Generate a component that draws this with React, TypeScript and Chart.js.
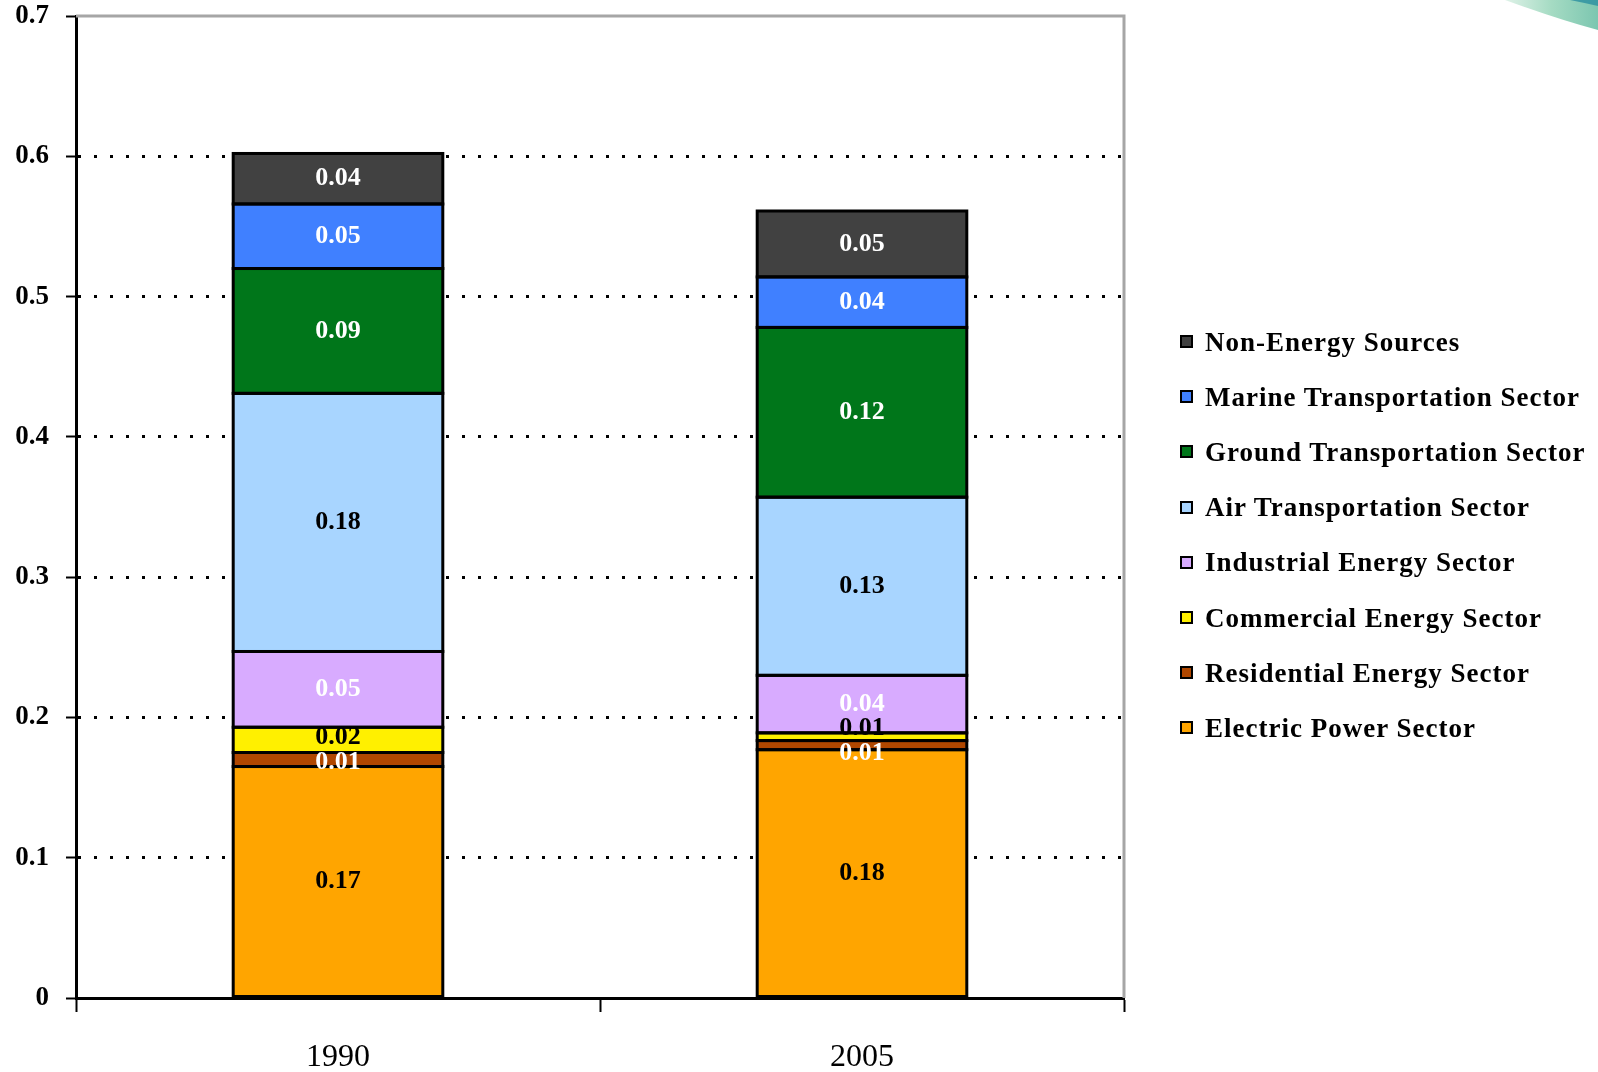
import React, { useEffect, useRef } from "react";
import { Chart, registerables } from "chart.js";

Chart.register(...registerables);

const categories = ["1990", "2005"];
const seriesNames = [
  "Electric Power Sector",
  "Residential Energy Sector",
  "Commercial Energy Sector",
  "Industrial Energy Sector",
  "Air Transportation Sector",
  "Ground Transportation Sector",
  "Marine Transportation Sector",
  "Non-Energy Sources",
];
const electricPower = [0.165, 0.177];
const residential = [0.01, 0.0065];
const commercial = [0.018, 0.0055];
const industrial = [0.054, 0.041];
const airTransport = [0.184, 0.127];
const groundTransport = [0.089, 0.121];
const marineTransport = [0.046, 0.036];
const nonEnergy = [0.036, 0.047];
const yTicks = [0, 0.1, 0.2, 0.3, 0.4, 0.5, 0.6, 0.7];

const seriesValues = [
  electricPower,
  residential,
  commercial,
  industrial,
  airTransport,
  groundTransport,
  marineTransport,
  nonEnergy,
];
const fillColors = [
  "#FFA500",
  "#B04700",
  "#FFF000",
  "#D8ABFF",
  "#A8D5FF",
  "#00761A",
  "#4080FF",
  "#414141",
];
const labelColors = [
  "#000000",
  "#FFFFFF",
  "#000000",
  "#FFFFFF",
  "#000000",
  "#FFFFFF",
  "#FFFFFF",
  "#FFFFFF",
];

const SERIF = '"Liberation Serif", "Times New Roman", serif';

const segmentOutlines = {
  id: "segmentOutlines",
  afterDatasetsDraw(chart: any) {
    const ctx = chart.ctx;
    ctx.save();
    ctx.strokeStyle = "#000000";
    ctx.lineWidth = 3;
    chart.data.datasets.forEach((_ds: any, di: number) => {
      chart.getDatasetMeta(di).data.forEach((el: any) => {
        const left = el.x - el.width / 2;
        const top = Math.min(el.y, el.base);
        const h = Math.abs(el.base - el.y);
        ctx.strokeRect(left, top, el.width, h);
      });
    });
    ctx.restore();
  },
};

const segmentLabels = {
  id: "segmentLabels",
  afterDatasetsDraw(chart: any) {
    const ctx = chart.ctx;
    const n = chart.data.labels.length;
    const MIN_GAP = 25;
    for (let i = 0; i < n; i++) {
      const items: any[] = [];
      chart.data.datasets.forEach((ds: any, di: number) => {
        const el = chart.getDatasetMeta(di).data[i];
        if (!el) return;
        const v = ds.data[i] as number;
        items.push({
          x: el.x,
          y: (el.y + el.base) / 2,
          text: v.toFixed(2),
          color: labelColors[di],
        });
      });
      items.sort((a, b) => a.y - b.y);
      for (let k = 1; k < items.length; k++) {
        const a = items[k - 1];
        const b = items[k];
        const gap = b.y - a.y;
        if (gap < MIN_GAP) {
          const d = (MIN_GAP - gap) / 2;
          a.y -= d;
          b.y += d;
        }
      }
      ctx.save();
      ctx.font = `bold 26px ${SERIF}`;
      ctx.textAlign = "center";
      ctx.textBaseline = "middle";
      items.forEach((it) => {
        ctx.fillStyle = it.color;
        ctx.fillText(it.text, it.x, it.y);
      });
      ctx.restore();
    }
  },
};

const frame = {
  id: "frame",
  beforeDatasetsDraw(chart: any) {
    const { ctx, chartArea } = chart;
    ctx.save();
    ctx.strokeStyle = "#A6A6A6";
    ctx.lineWidth = 3;
    ctx.beginPath();
    ctx.moveTo(chartArea.left, chartArea.top);
    ctx.lineTo(chartArea.right, chartArea.top);
    ctx.lineTo(chartArea.right, chartArea.bottom);
    ctx.stroke();
    ctx.restore();
  },
};

export default function App() {
  const canvasRef = useRef<HTMLCanvasElement | null>(null);

  useEffect(() => {
    document.body.style.margin = "0";
    const canvas = canvasRef.current;
    if (!canvas) return;
    const chart = new Chart(canvas, {
      type: "bar",
      data: {
        labels: categories,
        datasets: seriesValues.map((vals, i) => ({
          label: seriesNames[i],
          data: vals,
          backgroundColor: fillColors[i],
          borderColor: "#000000",
          borderWidth: 0,
          borderSkipped: false,
          categoryPercentage: 1,
          barPercentage: 0.4,
        })),
      },
      options: {
        animation: false,
        responsive: false,
        devicePixelRatio: 1,
        layout: { padding: { top: 16, right: 474, left: 0, bottom: 0 } },
        plugins: {
          legend: { display: false },
          tooltip: { enabled: false },
        },
        scales: {
          x: {
            stacked: true,
            afterFit: (scale: any) => {
              scale.height = 74;
              scale.paddingLeft = 0;
              scale.paddingRight = 0;
            },
            border: { display: true, color: "#000000", width: 3 },
            grid: {
              offset: true,
              drawOnChartArea: false,
              drawTicks: true,
              tickLength: 14,
              tickColor: "#000000",
              tickWidth: 2,
            },
            ticks: {
              color: "#000000",
              padding: 26,
              font: { family: SERIF, size: 32, weight: "normal" },
            },
          },
          y: {
            stacked: true,
            min: 0,
            max: 0.7,
            afterFit: (scale: any) => {
              scale.width = 76;
              scale.paddingTop = 0;
              scale.paddingBottom = 0;
            },
            afterBuildTicks: (scale: any) => {
              scale.ticks = yTicks.map((v) => ({ value: v }));
            },
            border: { display: true, color: "#000000", width: 3, dash: [3, 13] },
            grid: {
              drawOnChartArea: true,
              drawTicks: true,
              tickLength: 10,
              lineWidth: 3,
              tickBorderDash: [],
              tickColor: "#000000",
              tickWidth: 2,
              color: (c: any) =>
                c.tick && (c.tick.value === 0 || Math.abs(c.tick.value - 0.7) < 1e-9)
                  ? "rgba(0,0,0,0)"
                  : "#000000",
            },
            ticks: {
              color: "#000000",
              padding: 17,
              font: { family: SERIF, size: 27, weight: "bold" },
              callback: (v: any) => (Number(v) === 0 ? "0" : Number(v).toFixed(1)),
            },
          },
        },
      },
      plugins: [frame, segmentOutlines, segmentLabels],
    });
    return () => chart.destroy();
  }, []);

  const legendOrder = seriesNames.map((_, i) => i).reverse();

  return (
    <div style={{ position: "relative", width: 1598, height: 1072, background: "#fff", overflow: "hidden" }}>
      <canvas ref={canvasRef} width={1598} height={1072} style={{ width: 1598, height: 1072, display: "block" }} />
      <svg width={1598} height={1072} style={{ position: "absolute", left: 0, top: 0, pointerEvents: "none" }}>
        <defs>
          <linearGradient id="sw" x1="0" y1="0" x2="1" y2="0">
            <stop offset="0" stopColor="#dff2e8" />
            <stop offset="0.5" stopColor="#a5dbc3" />
            <stop offset="1" stopColor="#7cc6b0" />
          </linearGradient>
        </defs>
        <path d="M1505,0 L1598,0 L1598,30 Q1560,20 1505,0 Z" fill="url(#sw)" />
        <path d="M1570,0 L1598,0 L1598,6 Q1585,3 1570,0 Z" fill="#2b8fa0" opacity="0.8" />
      </svg>
      {legendOrder.map((si, k) => (
        <div
          key={si}
          style={{
            position: "absolute",
            left: 1180,
            top: 341.5 + k * 55.2,
            transform: "translateY(-50%)",
            display: "flex",
            alignItems: "center",
            whiteSpace: "nowrap",
          }}
        >
          <span
            style={{
              display: "inline-block",
              width: 9,
              height: 9,
              border: "2px solid #000",
              background: fillColors[si],
              marginRight: 12,
            }}
          />
          <span
            style={{
              fontFamily: SERIF,
              fontWeight: "bold",
              fontSize: 27,
              letterSpacing: "1px",
              color: "#000",
              lineHeight: "30px",
            }}
          >
            {seriesNames[si]}
          </span>
        </div>
      ))}
    </div>
  );
}
